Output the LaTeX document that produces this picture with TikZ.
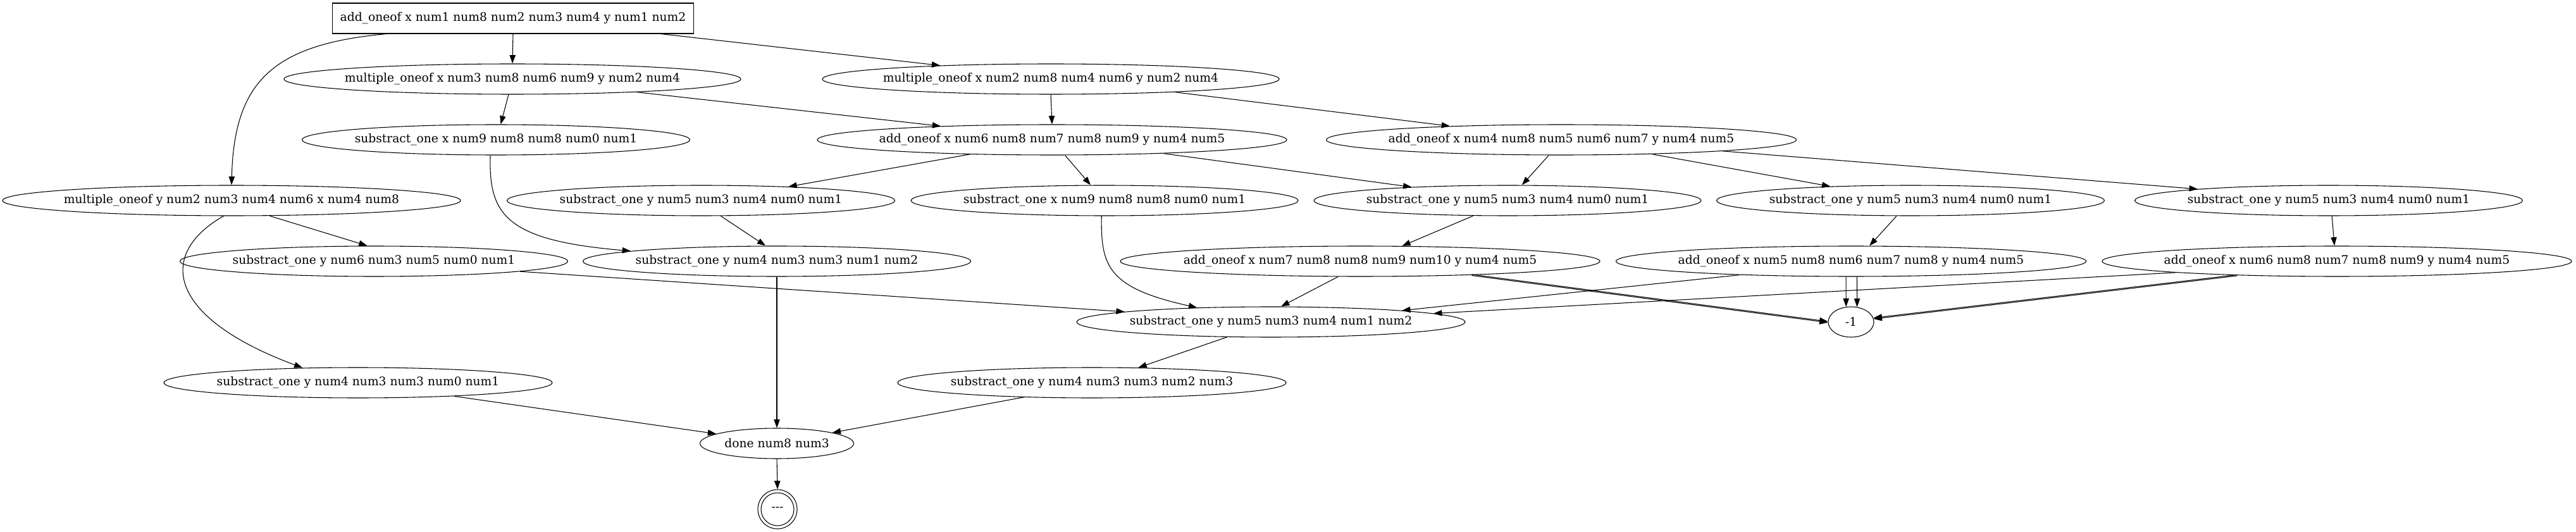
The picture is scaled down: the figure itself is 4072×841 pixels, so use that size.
\documentclass[tikz,border=0pt]{standalone}
\usepackage{fontspec}
\setmainfont{DejaVu Serif}
\usetikzlibrary{arrows.meta,shapes.geometric}
\newcommand\lbl[1]{\makebox[0pt]{#1}}
\tikzset{
  ell/.style={ellipse, draw, line width=0.8pt, inner sep=0pt, minimum height=36pt},
  boxnode/.style={rectangle, draw, line width=0.8pt, inner sep=0pt, minimum height=36pt},
  w/.style={minimum width=#1*0.75pt},
  arr/.style={-{Triangle[length=10pt,width=7pt]}, line width=0.8pt},
}
\begin{document}
\begin{tikzpicture}[x=0.75pt, y=-0.75pt, font=\fontsize{14pt}{16pt}\selectfont]
\useasboundingbox (0,0) rectangle (4072,841);
% nodes
\node[boxnode, w=571] (A) at (811,29) {\lbl{add\_oneof x num1 num8 num2 num3 num4 y num1 num2}};
\node[ell, w=722] (B) at (810,125) {\lbl{multiple\_oneof x num3 num8 num6 num9 y num2 num4}};
\node[ell, w=722] (C) at (1661,125) {\lbl{multiple\_oneof x num2 num8 num4 num6 y num2 num4}};
\node[ell, w=613] (D) at (784,221) {\lbl{substract\_one x num9 num8 num8 num0 num1}};
\node[ell, w=742] (E) at (1663,221) {\lbl{add\_oneof x num6 num8 num7 num8 num9 y num4 num5}};
\node[ell, w=743] (F) at (2468,221) {\lbl{add\_oneof x num4 num8 num5 num6 num7 y num4 num5}};
\node[ell, w=724] (G) at (366,317) {\lbl{multiple\_oneof y num2 num3 num4 num6 x num4 num8}};
\node[ell, w=613] (H) at (1108,317) {\lbl{substract\_one y num5 num3 num4 num0 num1}};
\node[ell, w=612] (I) at (1746,317) {\lbl{substract\_one x num9 num8 num8 num0 num1}};
\node[ell, w=612] (J) at (2383,317) {\lbl{substract\_one y num5 num3 num4 num0 num1}};
\node[ell, w=613] (K) at (3020,317) {\lbl{substract\_one y num5 num3 num4 num0 num1}};
\node[ell, w=613] (L) at (3681,317) {\lbl{substract\_one y num5 num3 num4 num0 num1}};
\node[ell, w=613] (M) at (591,413) {\lbl{substract\_one y num6 num3 num5 num0 num1}};
\node[ell, w=613] (N) at (1228,413) {\lbl{substract\_one y num4 num3 num3 num1 num2}};
\node[ell, w=758] (O) at (2150,413) {\lbl{add\_oneof x num7 num8 num8 num9 num10 y num4 num5}};
\node[ell, w=743] (P) at (2926,413) {\lbl{add\_oneof x num5 num8 num6 num7 num8 y num4 num5}};
\node[ell, w=742] (Q) at (3694,413) {\lbl{add\_oneof x num6 num8 num7 num8 num9 y num4 num5}};
\node[ell, w=614] (R) at (2009,509) {\lbl{substract\_one y num5 num3 num4 num1 num2}};
\node[ell, w=72] (S) at (2926,509) {\lbl{-1}};
\node[ell, w=614] (T) at (566,605) {\lbl{substract\_one y num4 num3 num3 num0 num1}};
\node[ell, w=614] (U) at (1726,605) {\lbl{substract\_one y num4 num3 num3 num2 num3}};
\node[ell, w=243] (V) at (1228,701) {\lbl{done num8 num3}};
\node[circle, draw, line width=0.8pt, inner sep=0pt, minimum size=62*0.75pt] (W) at (1229,805) {\lbl{-{}-{}-}};
\draw[line width=0.8pt] (W.center) circle[radius=19.5pt];
% edges
\draw[arr] (A.south) -- (B.north);
\draw[arr] (A.-6.6) -- (C.173.6);
\draw[arr] (A.-173.9) .. controls (430,70) and (370,130) .. (G.north);
\draw[arr] (B.-104) -- (D.73.7);
\draw[arr] (B.-6.55) -- (E.173.6);
\draw[arr] (C.south) -- (E.north);
\draw[arr] (C.-6.84) -- (F.173.0);
\draw[arr] (E.-170.1) -- (H.9.58);
\draw[arr] (E.-50.1) -- (I.132.6);
\draw[arr] (E.-7.81) -- (J.172.4);
\draw[arr] (F.-129.9) -- (J.47.4);
\draw[arr] (F.-9.98) -- (K.170.3);
\draw[arr] (F.-4.72) -- (L.175.45);
\draw[arr] (G.-22.9) -- (M.113.2);
\draw[arr] (G.-117.4) .. controls (250,400) and (260,500) .. (T.165.4);
\draw[arr] (D.-110.6) .. controls (772,340) and (800,380) .. (N.176.7);
\draw[arr] (H.-38.4) -- (N.126.7);
\draw[arr] (J.-156.8) -- (O.20.3);
\draw[arr] (K.-132.6) -- (P.40.5);
\draw[arr] (L.-78.2) -- (Q.99.5);
\draw[arr] (M.-4.47) -- (R.176.1);
\draw[arr] (I.-101.8) .. controls (1740,420) and (1750,455) .. (R.169.8);
\draw[arr] (O.-145.8) -- (R.57.3);
\draw[arr] (P.-173.85) -- (R.5.91);
\draw[arr] (Q.-176.46) -- (R.3.27);
\draw[arr, transform canvas={yshift=0.6pt}] (O.-7.52) -- (S.west);
\draw[arr, transform canvas={yshift=-0.6pt}] (O.-7.52) -- (S.west);
\draw[arr] (P.-108.4) -- (S.108.9);
\draw[arr] (P.-69.4) -- (S.68.8);
\draw[arr, transform canvas={yshift=0.6pt}] (Q.-172.47) -- (S.9.5);
\draw[arr, transform canvas={yshift=-0.6pt}] (Q.-172.47) -- (S.9.5);
\draw[arr] (N.south) -- (V.north);
\draw[arr] (T.-8.37) -- (V.171.3);
\draw[arr] (U.-168.5) -- (V.11.15);
\draw[arr] (R.-161.0) -- (U.18.2);
\draw[arr] (V.south) -- (W.north);
\end{tikzpicture}
\end{document}
